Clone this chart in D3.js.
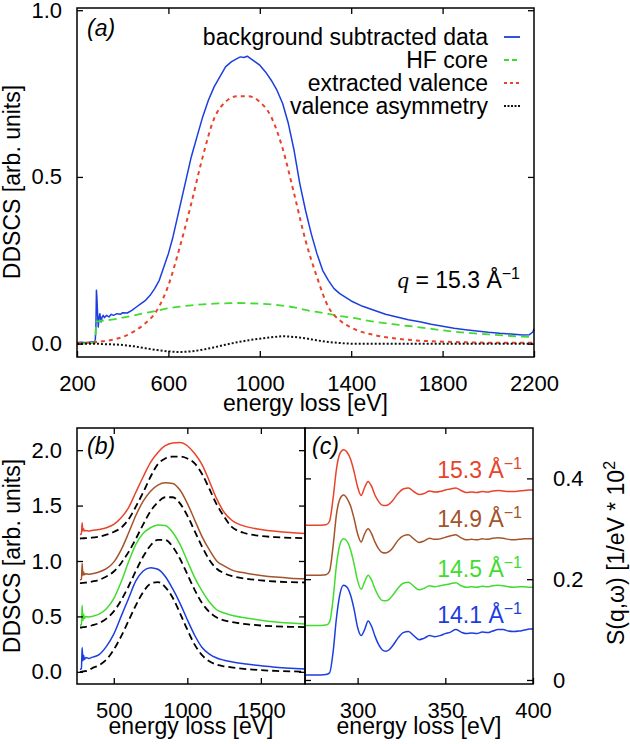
<!DOCTYPE html>
<html>
<head>
<meta charset="utf-8">
<script src="https://cdn.jsdelivr.net/npm/d3@7"></script>
<style>
  body { margin: 0; background: #fff; }
  svg text { font-family: "Liberation Sans", Arial, sans-serif; }
</style>
</head>
<body>
<svg width="630" height="744"></svg>
<script>
// ---- panel (a): q = 15.3 1/A
const eRaw = [200, 220, 240, 260, 275, 280, 283, 285, 287, 290, 293, 296, 300, 305, 310, 315, 320, 330, 340, 350,
  360, 375, 390, 400, 420, 440, 460, 480, 500, 520, 540, 560, 580, 600, 620, 640, 660, 680, 700, 725,
  750, 775, 800, 825, 850, 875, 900, 915, 930, 945, 960, 980, 1000, 1025, 1050, 1075, 1100, 1125, 1150, 1175,
  1200, 1225, 1250, 1275, 1300, 1325, 1350, 1400, 1450, 1500, 1550, 1600, 1650, 1700, 1750, 1800, 1850, 1900, 1950, 2000,
  2050, 2100, 2150, 2180, 2195, 2200];
const rawA = [0.003, 0.004, 0.003, 0.005, 0.006, 0.010, 0.060, 0.160, 0.140, 0.090, 0.050, 0.075, 0.090, 0.065, 0.080, 0.085, 0.078, 0.085, 0.080, 0.088,
  0.085, 0.090, 0.088, 0.093, 0.092, 0.100, 0.110, 0.120, 0.130, 0.145, 0.165, 0.190, 0.230, 0.270, 0.320, 0.380, 0.440, 0.500, 0.560, 0.620,
  0.680, 0.730, 0.770, 0.800, 0.830, 0.845, 0.855, 0.860, 0.858, 0.862, 0.855, 0.845, 0.835, 0.815, 0.790, 0.760, 0.720, 0.660, 0.580, 0.480,
  0.400, 0.330, 0.270, 0.220, 0.190, 0.165, 0.150, 0.128, 0.112, 0.100, 0.088, 0.080, 0.072, 0.066, 0.058, 0.052, 0.046, 0.042, 0.038, 0.034,
  0.031, 0.029, 0.026, 0.027, 0.035, 0.045];

const eA = [200, 250, 280, 284, 290, 300, 350, 400, 450, 500, 550, 600, 650, 700, 750, 800, 850, 900, 950, 1000,
  1050, 1100, 1150, 1200, 1250, 1300, 1350, 1400, 1500, 1600, 1700, 1800, 1900, 2000, 2100, 2200];
const coreA = [0.000, 0.001, 0.003, 0.066, 0.067, 0.068, 0.072, 0.078, 0.085, 0.092, 0.099, 0.106, 0.111, 0.115, 0.118, 0.120, 0.121, 0.122, 0.121, 0.120,
  0.118, 0.114, 0.109, 0.101, 0.095, 0.089, 0.083, 0.078, 0.066, 0.057, 0.049, 0.040, 0.033, 0.028, 0.023, 0.020];
const valenceA = [0.003, 0.003, 0.004, 0.005, 0.005, 0.006, 0.011, 0.020, 0.037, 0.062, 0.100, 0.175, 0.290, 0.420, 0.560, 0.675, 0.725, 0.742, 0.742, 0.725,
  0.680, 0.585, 0.450, 0.310, 0.200, 0.110, 0.070, 0.048, 0.026, 0.015, 0.009, 0.006, 0.004, 0.003, 0.003, 0.003];
const asymA = [0, 0, 0, 0, 0, -0.001, -0.002, -0.004, -0.008, -0.014, -0.019, -0.023, -0.025, -0.023, -0.018, -0.011, -0.003, 0.004, 0.010, 0.015,
  0.019, 0.022, 0.020, 0.016, 0.010, 0.005, 0.002, 0, 0, 0, 0, 0, 0, 0, 0, 0];
const legendLabels = ['background subtracted data', 'HF core', 'extracted valence', 'valence asymmetry'];

// ---- panel (b): DDSCS for four q, data and extracted valence
const eB = [270, 280, 285, 290, 295, 300, 310, 330, 350, 400, 450, 500, 550, 600, 650, 700, 750, 800, 850, 900,
  950, 1000, 1050, 1100, 1150, 1200, 1250, 1300, 1400, 1500, 1600, 1700, 1800];
const dataB141 = [0.020, 0.030, 0.220, 0.100, 0.150, 0.110, 0.130, 0.120, 0.130, 0.155, 0.230, 0.340, 0.500, 0.660, 0.820, 0.910, 0.940, 0.925, 0.860, 0.750,
  0.620, 0.470, 0.330, 0.220, 0.160, 0.125, 0.105, 0.090, 0.070, 0.055, 0.042, 0.033, 0.026];
const valB141 = [0.000, 0.000, 0.002, 0.003, 0.004, 0.005, 0.007, 0.014, 0.030, 0.060, 0.110, 0.200, 0.320, 0.460, 0.600, 0.720, 0.795, 0.810, 0.765, 0.670,
  0.530, 0.380, 0.245, 0.150, 0.095, 0.065, 0.050, 0.040, 0.025, 0.015, 0.008, 0.004, 0.002];
const dataB145 = [0.020, 0.025, 0.200, 0.060, 0.120, 0.080, 0.100, 0.095, 0.100, 0.120, 0.170, 0.260, 0.410, 0.590, 0.750, 0.850, 0.900, 0.925, 0.920, 0.860,
  0.750, 0.600, 0.450, 0.330, 0.230, 0.160, 0.130, 0.110, 0.085, 0.065, 0.050, 0.040, 0.032];
const valB145 = [0.000, 0.000, 0.002, 0.003, 0.003, 0.004, 0.006, 0.010, 0.018, 0.040, 0.080, 0.145, 0.245, 0.370, 0.510, 0.640, 0.740, 0.790, 0.790, 0.730,
  0.620, 0.480, 0.340, 0.220, 0.140, 0.090, 0.065, 0.050, 0.030, 0.018, 0.010, 0.006, 0.004];
const dataB149 = [0.030, 0.035, 0.180, 0.070, 0.100, 0.075, 0.085, 0.080, 0.085, 0.100, 0.130, 0.190, 0.300, 0.450, 0.610, 0.740, 0.830, 0.885, 0.905, 0.900,
  0.840, 0.720, 0.570, 0.420, 0.300, 0.200, 0.155, 0.120, 0.090, 0.070, 0.055, 0.045, 0.040];
const valB149 = [0.000, 0.000, 0.002, 0.003, 0.003, 0.004, 0.005, 0.008, 0.014, 0.030, 0.060, 0.105, 0.180, 0.280, 0.400, 0.530, 0.650, 0.730, 0.775, 0.775,
  0.720, 0.610, 0.470, 0.330, 0.210, 0.130, 0.090, 0.065, 0.040, 0.025, 0.015, 0.009, 0.006];
const dataB153 = [0.040, 0.045, 0.145, 0.070, 0.090, 0.070, 0.075, 0.070, 0.075, 0.085, 0.100, 0.130, 0.190, 0.280, 0.420, 0.560, 0.690, 0.780, 0.840, 0.865,
  0.870, 0.840, 0.770, 0.670, 0.520, 0.360, 0.240, 0.170, 0.110, 0.085, 0.068, 0.056, 0.048];
const valB153 = [0.003, 0.004, 0.004, 0.005, 0.005, 0.005, 0.006, 0.008, 0.010, 0.020, 0.037, 0.062, 0.100, 0.175, 0.290, 0.420, 0.560, 0.675, 0.725, 0.742,
  0.742, 0.725, 0.680, 0.585, 0.450, 0.310, 0.200, 0.110, 0.048, 0.026, 0.015, 0.009, 0.006];
const offsetsB = [0, 0.4, 0.8, 1.2];

// ---- panel (c): S(q,w) near the C K edge
const eC = [270, 276, 282, 284, 286, 288, 290, 292, 294, 296, 298, 300, 302, 304, 306, 308, 310, 312, 314, 316,
  318, 320, 323, 326, 329, 332, 335, 338, 341, 344, 347, 350, 353, 356, 359, 362, 365, 368, 371, 374,
  377, 380, 383, 386, 389, 392, 395, 398, 400];
const sqw141 = [0.010, 0.010, 0.011, 0.014, 0.055, 0.125, 0.172, 0.188, 0.184, 0.168, 0.140, 0.104, 0.088, 0.100, 0.117, 0.106, 0.086, 0.070, 0.060, 0.057,
  0.060, 0.068, 0.083, 0.094, 0.096, 0.088, 0.080, 0.083, 0.088, 0.086, 0.088, 0.092, 0.095, 0.100, 0.095, 0.092, 0.093, 0.092, 0.095, 0.094,
  0.097, 0.100, 0.100, 0.097, 0.096, 0.097, 0.099, 0.101, 0.101];
const sqw145 = [0.008, 0.008, 0.009, 0.015, 0.060, 0.130, 0.170, 0.180, 0.175, 0.158, 0.130, 0.097, 0.080, 0.095, 0.108, 0.098, 0.080, 0.066, 0.058, 0.057,
  0.060, 0.068, 0.082, 0.092, 0.094, 0.086, 0.079, 0.082, 0.087, 0.085, 0.087, 0.089, 0.091, 0.093, 0.087, 0.084, 0.085, 0.084, 0.086, 0.085,
  0.087, 0.088, 0.087, 0.085, 0.084, 0.085, 0.085, 0.084, 0.084];
const sqw149 = [0.008, 0.008, 0.009, 0.016, 0.065, 0.130, 0.160, 0.167, 0.160, 0.145, 0.120, 0.090, 0.074, 0.090, 0.100, 0.090, 0.073, 0.060, 0.053, 0.052,
  0.055, 0.062, 0.077, 0.086, 0.088, 0.080, 0.073, 0.076, 0.081, 0.079, 0.080, 0.083, 0.086, 0.088, 0.082, 0.078, 0.079, 0.078, 0.080, 0.079,
  0.081, 0.082, 0.081, 0.079, 0.078, 0.079, 0.080, 0.080, 0.080];
const sqw153 = [0.007, 0.007, 0.008, 0.015, 0.060, 0.120, 0.150, 0.157, 0.152, 0.138, 0.113, 0.083, 0.066, 0.082, 0.094, 0.084, 0.066, 0.054, 0.047, 0.046,
  0.049, 0.056, 0.070, 0.079, 0.081, 0.074, 0.068, 0.070, 0.075, 0.073, 0.074, 0.077, 0.079, 0.081, 0.076, 0.072, 0.073, 0.072, 0.074, 0.073,
  0.075, 0.076, 0.075, 0.074, 0.074, 0.075, 0.076, 0.077, 0.077];
const offsetsC = [0, 0.1, 0.2, 0.3];

const qLabels = ['14.1', '14.5', '14.9', '15.3'];
const colors = ['#1c3ee0', '#42dc30', '#a4532b', '#e8432b'];

const svg = d3.select('svg');

// frame with inward ticks on all four sides
function box(x, y, o) {
  const [l, r] = x.range(), [b, t] = y.range();
  const g = svg.append('g');
  const put = (tr, ax) => g.append('g').attr('transform', tr).call(ax)
    .attr('font-size', 22).attr('font-family', '"Liberation Sans", Arial, sans-serif');
  put(`translate(0,${b})`, d3.axisBottom(x).tickValues(o.xb).tickSize(-6).tickPadding(18).tickFormat(d => d));
  put(`translate(0,${t})`, d3.axisTop(x).tickValues(o.xt).tickSize(-6).tickFormat(''));
  put(`translate(${l},0)`, d3.axisLeft(y).tickValues(o.yt).tickSize(-6).tickPadding(15).tickFormat(o.left ? o.fmt : ''));
  put(`translate(${r},0)`, d3.axisRight(y).tickValues(o.yt).tickSize(-6).tickPadding(20).tickFormat(o.right ? o.fmt : ''));
  g.selectAll('.domain').remove();
  g.selectAll('.tick line').attr('stroke-width', 1.3);
  g.append('rect').attr('x', l).attr('y', t).attr('width', r - l).attr('height', b - t)
    .attr('fill', 'none').attr('stroke', '#000').attr('stroke-width', 1.5);
}

function curve(x, y, xs, ys, off, color, dash, w, c) {
  const line = d3.line().curve(c || d3.curveLinear).x((d, i) => x(xs[i])).y(d => y(d + off));
  svg.append('path').attr('d', line(ys)).attr('fill', 'none').attr('stroke', color)
    .attr('stroke-width', w).attr('stroke-dasharray', dash).attr('stroke-linejoin', 'round');
}

function label(txt, x, y, rot, size) {
  return svg.append('text').attr('transform', `translate(${x},${y}) rotate(${rot})`)
    .attr('text-anchor', 'middle').attr('font-size', size || 23).text(txt);
}

function tag(txt, x, y) {
  svg.append('text').attr('x', x).attr('y', y).attr('font-family', '"Liberation Serif", serif')
    .attr('font-style', 'italic').attr('font-size', 23).text(txt);
}

// ===== panel (a)
const xA = d3.scaleLinear().domain([200, 2200]).range([77, 534]);
const yA = d3.scaleLinear().domain([-0.04, 1.0066]).range([357, 8]);

const styleA = [
  {xs: eRaw, ys: rawA, color: colors[0], dash: null, w: 1.5},
  {xs: eA, ys: coreA, color: colors[1], dash: '8,5', w: 1.8},
  {xs: eA, ys: valenceA, color: colors[3], dash: '4,4', w: 2},
  {xs: eA, ys: asymA, color: '#111', dash: '2,2', w: 2}
];
styleA.forEach((s, i) => curve(xA, yA, s.xs, s.ys, 0, s.color, s.dash, s.w, i ? d3.curveMonotoneX : null));
box(xA, yA, {xb: [200, 600, 1000, 1400, 1800, 2200], xt: [600, 1000, 1400, 1800], yt: [0, 0.5, 1.0],
  left: true, fmt: d3.format('.1f')});

const legDash = [null, '5,3', '3,3', '2,1.5'];
legendLabels.forEach((t, i) => {
  const yy = 45 + i * 23;
  svg.append('text').attr('x', 488).attr('y', yy).attr('text-anchor', 'end').attr('font-size', 23).text(t);
  svg.append('line').attr('x1', 504).attr('x2', 520).attr('y1', yy - 8).attr('y2', yy - 8)
    .attr('stroke', styleA[i].color).attr('stroke-width', 1.8).attr('stroke-dasharray', legDash[i]);
});

const qt = svg.append('text').attr('x', 520).attr('y', 288).attr('text-anchor', 'end').attr('font-size', 23);
qt.append('tspan').attr('font-family', '"Liberation Serif", serif').attr('font-style', 'italic').text('q');
qt.append('tspan').text(' = 15.3 Å');
qt.append('tspan').attr('font-size', 16).attr('dy', -9).text('−1');

tag('(a)', 87, 36);
label('energy loss [eV]', 305.5, 411, 0);
label('DDSCS [arb. units]', 20, 182, -90);

// ===== panel (b)
const xB = d3.scaleLinear().domain([250, 1800]).range([77, 305]);
const yB = d3.scaleLinear().domain([-0.11, 2.2]).range([684, 428]);
const dataB = [dataB141, dataB145, dataB149, dataB153];
const valB = [valB141, valB145, valB149, valB153];
qLabels.forEach((q, i) => {
  curve(xB, yB, eB, dataB[i], offsetsB[i], colors[i], null, 1.5, d3.curveMonotoneX);
  curve(xB, yB, eB, valB[i], offsetsB[i], '#000', '7,4', 1.8, d3.curveMonotoneX);
});
box(xB, yB, {xb: [500, 1000, 1500], xt: [500, 1000, 1500], yt: [0, 0.5, 1.0, 1.5, 2.0],
  left: true, fmt: d3.format('.1f')});
tag('(b)', 87, 454);
label('energy loss [eV]', 191, 734, 0);
label('DDSCS [arb. units]', 20, 556, -90);

// ===== panel (c)
const xC = d3.scaleLinear().domain([270, 400]).range([305, 533]);
const yC = d3.scaleLinear().domain([-0.008, 0.5]).range([684, 428]);
const sqw = [sqw141, sqw145, sqw149, sqw153];
qLabels.forEach((q, i) => {
  curve(xC, yC, eC, sqw[i], offsetsC[i], colors[i], null, 1.5, d3.curveMonotoneX);
});
box(xC, yC, {xb: [300, 350, 400], xt: [300, 350], yt: [0, 0.2, 0.4],
  right: true, fmt: d => d === 0 ? '0' : d3.format('.1f')(d)});

const qBase = [623, 577, 527, 478];
qLabels.forEach((q, i) => {
  const t = svg.append('text').attr('x', 522).attr('y', qBase[i]).attr('text-anchor', 'end')
    .attr('font-size', 23).attr('fill', colors[i]);
  t.append('tspan').text(`${q} Å`);
  t.append('tspan').attr('font-size', 16).attr('dy', -9).text('−1');
});
tag('(c)', 312, 454);
label('energy loss [eV]', 419, 734, 0);
const sl = label('', 624, 553, -90);
sl.append('tspan').text('S(q,ω) [1/eV * 10');
sl.append('tspan').attr('font-size', 16).attr('dy', -9).text('2');
</script>
</body>
</html>
